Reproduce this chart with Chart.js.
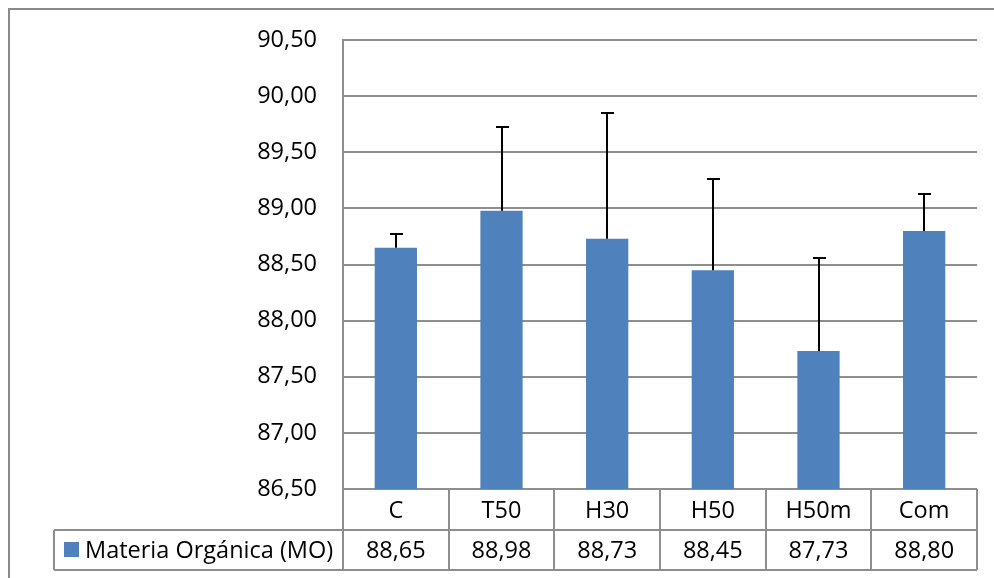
<!DOCTYPE html>
<html>
<head>
<meta charset="utf-8">
<script src="https://cdn.jsdelivr.net/npm/chart.js@4"></script>
<style>
  body { margin: 0; background: #fff; }
  #wrap { width: 994px; height: 578px; }
</style>
</head>
<body>
<div id="wrap"><canvas id="myChart" width="994" height="578"></canvas></div>
<script>
// data
var categories = ['C', 'T50', 'H30', 'H50', 'H50m', 'Com'];
var seriesName = 'Materia Orgánica (MO)';
var moValues = [88.65, 88.98, 88.73, 88.45, 87.73, 88.80];
var moErrors = [0.12, 0.75, 1.12, 0.81, 0.83, 0.33];   // upper error bars
var yTicks = [86.5, 87, 87.5, 88, 88.5, 89, 89.5, 90, 90.5];

var FONT = '"Open Sans", "Liberation Sans", sans-serif';
var FSIZE = 23.5;
var GRID = '#8e8e8e';
var BAR = '#4f81bd';

function fmt(v) {
  return v.toFixed(2).replace('.', ',');
}

// error bars, data table, legend key and outer frame
var extras = {
  id: 'extras',
  afterDatasetsDraw: function(chart) {
    var c = chart.ctx, x = chart.scales.x, y = chart.scales.y;
    c.save();
    c.strokeStyle = '#000';
    c.lineWidth = 2;
    moValues.forEach(function(v, i) {
      var px = Math.round(x.getPixelForValue(i));
      var top = Math.round(y.getPixelForValue(v + moErrors[i]));
      var bot = y.getPixelForValue(v);
      c.beginPath();
      c.moveTo(px, bot);
      c.lineTo(px, top);
      c.moveTo(px - 6, top);
      c.lineTo(px + 7, top);
      c.stroke();
    });
    c.restore();
  },
  afterDraw: function(chart) {
    var c = chart.ctx, x = chart.scales.x, area = chart.chartArea;
    var row1 = area.bottom, row2 = area.bottom + 41, row3 = area.bottom + 81;
    var keyLeft = 54;
    c.save();
    c.strokeStyle = GRID;
    c.lineWidth = 2;
    c.beginPath();
    // horizontal table lines
    c.moveTo(keyLeft, row2); c.lineTo(area.right, row2);
    c.moveTo(keyLeft, row3); c.lineTo(area.right, row3);
    // vertical table lines
    c.moveTo(keyLeft, row2); c.lineTo(keyLeft, row3);
    c.moveTo(area.left, area.top); c.lineTo(area.left, row3);
    for (var i = 0; i < categories.length; i++) {
      var edge = Math.round(x.getPixelForValue(i) + x.width / categories.length / 2);
      c.moveTo(edge, row1); c.lineTo(edge, row3);
    }
    c.stroke();

    // value row
    c.fillStyle = '#000';
    c.font = FSIZE + 'px ' + FONT;
    c.textAlign = 'center';
    c.textBaseline = 'middle';
    moValues.forEach(function(v, i) {
      c.fillText(fmt(v), x.getPixelForValue(i), (row2 + row3) / 2 + 1);
    });

    // legend key
    c.fillStyle = BAR;
    c.fillRect(64, 542, 15, 15);
    c.fillStyle = '#000';
    c.textAlign = 'left';
    c.fillText(seriesName, 85, (row2 + row3) / 2 + 1);

    // outer frame
    c.strokeStyle = '#8a8a8a';
    c.lineWidth = 2;
    c.beginPath();
    c.moveTo(9, chart.height);
    c.lineTo(9, 9);
    c.lineTo(chart.width, 9);
    c.stroke();
    c.restore();
  }
};

var ctx = document.getElementById('myChart').getContext('2d');
var myChart = new Chart(ctx, {
  type: 'bar',
  data: {
    labels: categories,
    datasets: [{
      label: seriesName,
      data: moValues,
      backgroundColor: BAR,
      borderWidth: 0,
      categoryPercentage: 1,
      barPercentage: 0.4
    }]
  },
  plugins: [extras],
  options: {
    responsive: false,
    animation: false,
    layout: { padding: { left: 0, right: 17, top: 38, bottom: 8 } },
    plugins: {
      legend: { display: false },
      tooltip: { enabled: false }
    },
    scales: {
      x: {
        grid: { display: false, drawTicks: false },
        border: { display: false },
        ticks: {
          color: '#000',
          font: { family: FONT, size: FSIZE },
          padding: 8,
          maxRotation: 0
        },
        afterFit: function(s) { s.height = 81; }
      },
      y: {
        min: 86.5,
        max: 90.5,
        afterBuildTicks: function(s) {
          s.ticks = yTicks.map(function(v) { return { value: v }; });
        },
        grid: { color: GRID, lineWidth: 2, drawTicks: false },
        border: { display: true, color: GRID, width: 2 },
        ticks: {
          color: '#000',
          font: { family: FONT, size: FSIZE },
          padding: 26,
          callback: function(v) { return fmt(v); }
        },
        afterFit: function(s) { s.width = 343; }
      }
    }
  }
});
</script>
</body>
</html>
